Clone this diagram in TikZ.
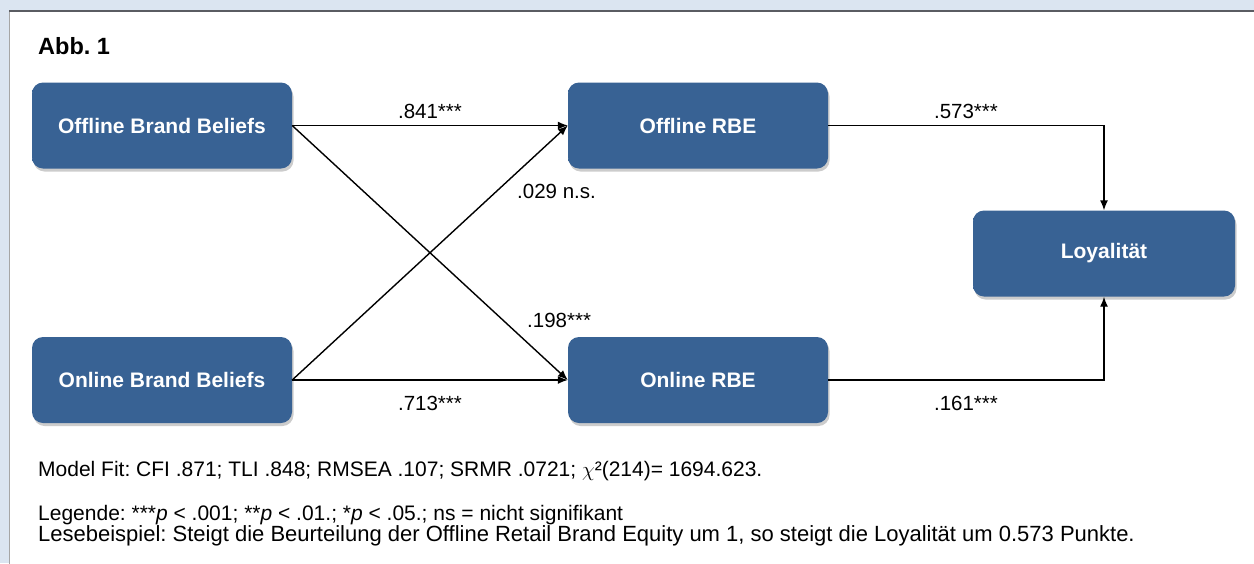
\documentclass[tikz,border=0pt]{standalone}
\usepackage{fontspec}
\setmainfont{Liberation Sans}
\usetikzlibrary{shadows,arrows.meta}
\definecolor{bgblue}{RGB}{219,229,241}
\definecolor{paneledge}{RGB}{90,92,98}
\definecolor{boxlight}{RGB}{125,178,235}
\definecolor{boxmain}{RGB}{56,98,148}
\definecolor{boxdark}{RGB}{46,82,128}
\pgfdeclareverticalshading{boxshade}{100bp}{color(0bp)=(boxdark); color(10bp)=(boxmain); color(82bp)=(boxmain); color(92bp)=(boxlight!65!boxmain); color(100bp)=(boxlight)}
\tikzset{
  boxnode/.style={shading=boxshade, rounded corners=11pt, minimum width=260pt, minimum height=86pt,
    text=white, font=\fontsize{21}{24}\selectfont\bfseries, inner sep=0pt,
    drop shadow={opacity=0.4, shadow xshift=1.5pt, shadow yshift=-3pt}},
  conn/.style={line width=1.4pt, -{Latex[length=10pt,width=8pt]}},
  lab/.style={font=\fontsize{20.5}{24}\selectfont, inner sep=0pt},
  foot/.style={font=\fontsize{21}{23}\selectfont, inner sep=0pt, anchor=base west}
}
\begin{document}
\frenchspacing
\begin{tikzpicture}[x=1pt,y=-1pt]
\useasboundingbox (0,0) rectangle (1254,563);
\fill[bgblue] (0,0) rectangle (1254,563);
\fill[white] (9,11) rectangle (1260,570);
\draw[line width=0.8pt, gray!70] (9,570) -- (9,11);
\draw[line width=2pt, paneledge] (9,11) -- (1260,11);

\node[font=\fontsize{23.5}{26}\selectfont\bfseries, inner sep=0pt, anchor=base west] (title) at (38,54) {Abb. 1};

\node[boxnode] (obb) at (162,125.5) {Offline Brand Beliefs};
\node[boxnode] (orbe) at (698,125.5) {Offline RBE};
\node[boxnode, minimum width=262pt] (loy) at (1104,253.5) {Loyalität};
\node[boxnode] (onbb) at (162,380) {Online Brand Beliefs};
\node[boxnode] (onrbe) at (698,380) {Online RBE};

\draw[conn] (obb.east) -- (orbe.west);
\draw[conn] (obb.east) -- (onrbe.west);
\draw[conn] (onbb.east) -- (orbe.west);
\draw[conn] (onbb.east) -- (onrbe.west);
\draw[conn] (orbe.east) -| (loy.north);
\draw[conn] (onrbe.east) -| (loy.south);

\node[lab, anchor=base] (l1) at (430,118) {.841***};
\node[lab, anchor=base] (l2) at (966,118) {.573***};
\node[lab, anchor=base west] (l3) at (517,198) {.029 n.s.};
\node[lab, anchor=base west] (l4) at (527,327) {.198***};
\node[lab, anchor=base] (l5) at (430,410) {.713***};
\node[lab, anchor=base] (l6) at (966,410) {.161***};

\node[foot] (fit) at (38,476) {Model Fit: CFI .871; TLI .848; RMSEA .107; SRMR .0721; $\chi$²(214)= 1694.623.};
\node[foot] (leg) at (38,520) {Legende: ***\textit{p} < .001; **\textit{p} < .01.; *\textit{p} < .05.; ns = nicht signifikant};
\node[foot, font=\fontsize{22}{23}\selectfont] (lese) at (38,541) {Lesebeispiel: Steigt die Beurteilung der Offline Retail Brand Equity um 1, so steigt die Loyalität um 0.573 Punkte.};
\end{tikzpicture}
\end{document}
